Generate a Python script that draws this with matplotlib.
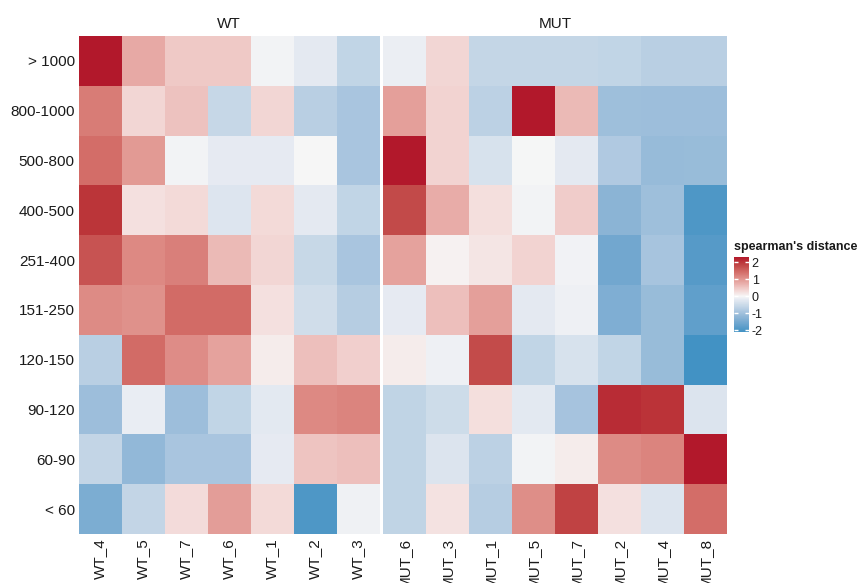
import matplotlib
matplotlib.use("Agg")
import matplotlib.pyplot as plt
import numpy as np
from matplotlib.colors import LinearSegmentedColormap, Normalize

plt.rcParams["font.family"] = ["Liberation Sans", "DejaVu Sans"]

# Read-length bins, listed top to bottom
bins = ["> 1000", "800-1000", "500-800", "400-500", "251-400",
        "151-250", "120-150", "90-120", "60-90", "< 60"]

wt_samples = ["WT_4", "WT_5", "WT_7", "WT_6", "WT_1", "WT_2", "WT_3"]
mut_samples = ["MUT_6", "MUT_3", "MUT_1", "MUT_5", "MUT_7", "MUT_2", "MUT_4", "MUT_8"]

wt_values = [
    [2.30, 0.80, 0.47, 0.47, -0.05, -0.20, -0.62],
    [1.26, 0.33, 0.54, -0.57, 0.34, -0.72, -0.91],
    [1.41, 0.95, -0.05, -0.18, -0.18, 0.00, -0.91],
    [2.00, 0.23, 0.30, -0.29, 0.30, -0.20, -0.62],
    [1.67, 1.12, 1.23, 0.63, 0.33, -0.54, -0.90],
    [1.10, 1.04, 1.43, 1.43, 0.23, -0.45, -0.75],
    [-0.72, 1.44, 1.09, 0.87, 0.10, 0.58, 0.40],
    [-1.05, -0.15, -1.05, -0.62, -0.21, 1.13, 1.18],
    [-0.60, -1.16, -0.90, -0.90, -0.18, 0.52, 0.58],
    [-1.42, -0.60, 0.28, 0.92, 0.30, -1.95, -0.08],
]

mut_values = [
    [-0.13, 0.34, -0.58, -0.58, -0.58, -0.62, -0.72, -0.72],
    [0.90, 0.36, -0.68, 2.30, 0.63, -1.02, -1.05, -1.05],
    [2.30, 0.36, -0.36, -0.02, -0.20, -0.82, -1.12, -1.10],
    [1.78, 0.76, 0.24, -0.05, 0.43, -1.25, -1.03, -1.95],
    [0.87, 0.06, 0.17, 0.37, -0.06, -1.54, -0.93, -1.86],
    [-0.18, 0.58, 0.90, -0.20, -0.10, -1.39, -1.10, -1.74],
    [0.10, -0.10, 1.75, -0.62, -0.35, -0.62, -1.10, -2.10],
    [-0.63, -0.47, 0.24, -0.21, -0.94, 2.08, 2.01, -0.30],
    [-0.63, -0.30, -0.68, -0.04, 0.10, 1.10, 1.18, 2.30],
    [-0.63, 0.22, -0.75, 1.07, 1.87, 0.23, -0.30, 1.42],
]

vmin, vmax = -2.1, 2.3

# Diverging palette: blue -> near-white -> red, anchored by value
blue_stops = [(-2.10, "#4292C4"), (-1.95, "#5098C7"), (-1.54, "#73A8D0"),
              (-1.25, "#8CB5D6"), (-0.91, "#A9C5DF"), (-0.58, "#C5D7E7"),
              (-0.20, "#E5EAF2")]
red_stops = [(0.33, "#F3D7D5"), (0.78, "#E8ABA7"), (1.04, "#E0928C"),
             (1.41, "#D46E69"), (1.75, "#C44D4C"), (2.00, "#BC363A"),
             (2.30, "#B2182B")]
stops = blue_stops + [(0.0, "#F7F7F7")] + red_stops
cmap = LinearSegmentedColormap.from_list(
    "spearman", [((v - vmin) / (vmax - vmin), c) for v, c in stops])
norm = Normalize(vmin=vmin, vmax=vmax)

W, H = 861, 583
fig = plt.figure(figsize=(W / 100, H / 100), dpi=100)

top, bottom = 36, 534
panels = [("WT", wt_samples, wt_values, 79, 379),
          ("MUT", mut_samples, mut_values, 383, 727)]

text_color = "#1a1a1a"
axes = []
for title, samples, vals, x0, x1 in panels:
    ax = fig.add_axes([x0 / W, (H - bottom) / H, (x1 - x0) / W, (bottom - top) / H])
    im = ax.imshow(np.array(vals), cmap=cmap, norm=norm, aspect="auto",
                   interpolation="nearest")
    ax.set_xticks(range(len(samples)))
    ax.set_xticklabels(samples, rotation=90, ha="center", va="top",
                       fontsize=11, color=text_color)
    ax.set_yticks(range(len(bins)))
    if not axes:
        ax.set_yticklabels(bins, fontsize=11, color=text_color)
    else:
        ax.set_yticklabels([])
    ax.tick_params(length=0, pad=3)
    for s in ax.spines.values():
        s.set_visible(False)
    ax.set_title(title, fontsize=11, color=text_color, pad=6)
    axes.append(ax)

# Colour legend
cax = fig.add_axes([734 / W, (H - 332) / H, 15 / W, 75 / H])
cb = fig.colorbar(im, cax=cax, ticks=[-2, -1, 0, 1, 2])
cb.outline.set_visible(False)
cax.tick_params(left=True, right=True, direction="in", length=3, width=1,
                color="white", labelcolor=text_color, labelsize=9, pad=2)
cax.set_yticklabels(["-2", "-1", "0", "1", "2"])
fig.text(734 / W, (H - 247) / H, "spearman's distance", fontsize=9,
         fontweight="bold", color=text_color, ha="left", va="center")

fig.savefig("out.png", dpi=100)
